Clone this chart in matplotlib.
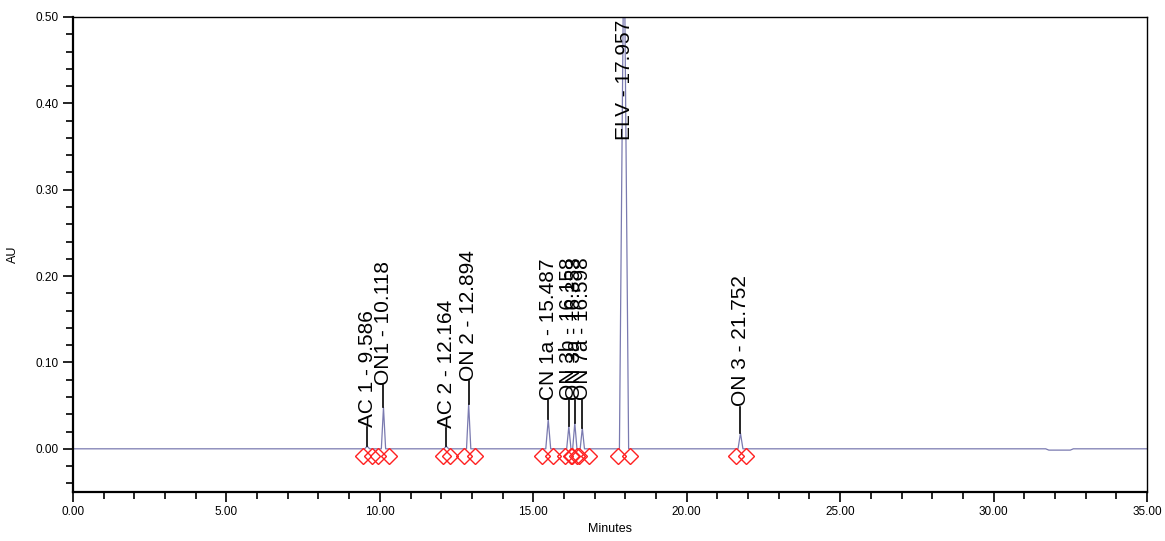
import numpy as np
import matplotlib
matplotlib.use('Agg')
import matplotlib.pyplot as plt
from matplotlib.ticker import MultipleLocator, FormatStrFormatter

plt.rcParams['font.family'] = ['Liberation Sans', 'DejaVu Sans']

# peak table
peak_names = ['AC 1 - 9.586', 'ON1 - 10.118', 'AC 2 - 12.164', 'ON 2 - 12.894',
              'CN 1a - 15.487', 'ON 3b - 16.158', 'ON 3a - 16.353', 'ON 7a - 16.598',
              'ELV - 17.957', 'ON 3 - 21.752']
peak_times = [9.586, 10.118, 12.164, 12.894, 15.487, 16.158, 16.353, 16.598, 17.957, 21.752]
peak_heights = [0.003, 0.048, 0.003, 0.052, 0.034, 0.026, 0.030, 0.024, 0.62, 0.018]
peak_halfwidth = [0.08, 0.07, 0.08, 0.07, 0.08, 0.07, 0.07, 0.07, 0.15, 0.08]
label_bottoms = [0.025, 0.074, 0.024, 0.078, 0.057, 0.057, 0.057, 0.057, 0.358, 0.049]
peak_starts = [9.45, 9.95, 12.05, 12.75, 15.30, 16.02, 16.25, 16.48, 17.75, 21.62]
peak_ends = [9.75, 10.30, 12.30, 13.10, 15.65, 16.22, 16.42, 16.80, 18.15, 21.92]

# baseline readings (time, AU)
base_t = [0.0, 31.7, 31.8, 32.5, 32.6, 35.0]
base_y = [0.0, 0.0, -0.0015, -0.0015, 0.0, 0.0]

# build the trace: baseline plus triangular peaks
t = list(base_t)
y = list(base_y)
for tm, h, w in zip(peak_times, peak_heights, peak_halfwidth):
    t += [tm - w, tm, tm + w]
    y += [0.0, h, 0.0]
order = np.argsort(t, kind='stable')
t = np.array(t)[order]
y = np.array(y)[order]

fig = plt.figure(figsize=(11.65, 5.41), dpi=100)
ax = fig.add_axes([73 / 1165, 1 - 492 / 541, 1074 / 1165, 475 / 541])

ax.plot(t, y, color='#7a7ab0', lw=0.9, zorder=2)

# integration markers
mk_t = peak_starts + peak_ends
ax.plot(mk_t, [-0.008] * len(mk_t), ls='none', marker='D', ms=8,
        mfc='none', mec='#ff2020', mew=1.0, zorder=3, clip_on=False)

# labels with stems
for name, tm, h, lb in zip(peak_names, peak_times, peak_heights, label_bottoms):
    top = min(h, lb)
    ax.plot([tm, tm], [top, lb], color='black', lw=1.2, zorder=4)
    ax.text(tm, lb, name, rotation=90, ha='center', va='bottom',
            fontsize=15, color='black', zorder=5)

ax.set_xlim(0, 35)
ax.set_ylim(-0.05, 0.5)
ax.xaxis.set_major_locator(MultipleLocator(5))
ax.xaxis.set_minor_locator(MultipleLocator(1))
ax.yaxis.set_major_locator(MultipleLocator(0.1))
ax.yaxis.set_minor_locator(MultipleLocator(0.02))
ax.xaxis.set_major_formatter(FormatStrFormatter('%.2f'))
ax.yaxis.set_major_formatter(FormatStrFormatter('%.2f'))
ax.tick_params(which='major', length=7, width=1.2, labelsize=8.5, direction='out')
ax.tick_params(which='minor', length=5, width=1.2, direction='out')
ax.tick_params(axis='x', pad=3)
for sp in ax.spines.values():
    sp.set_linewidth(1.0)
ax.spines['bottom'].set_linewidth(1.6)
ax.spines['left'].set_linewidth(1.6)

ax.set_xlabel('Minutes', fontsize=9, labelpad=4)
ax.set_ylabel('AU', fontsize=9, labelpad=12)

fig.savefig('out.png', dpi=100)
